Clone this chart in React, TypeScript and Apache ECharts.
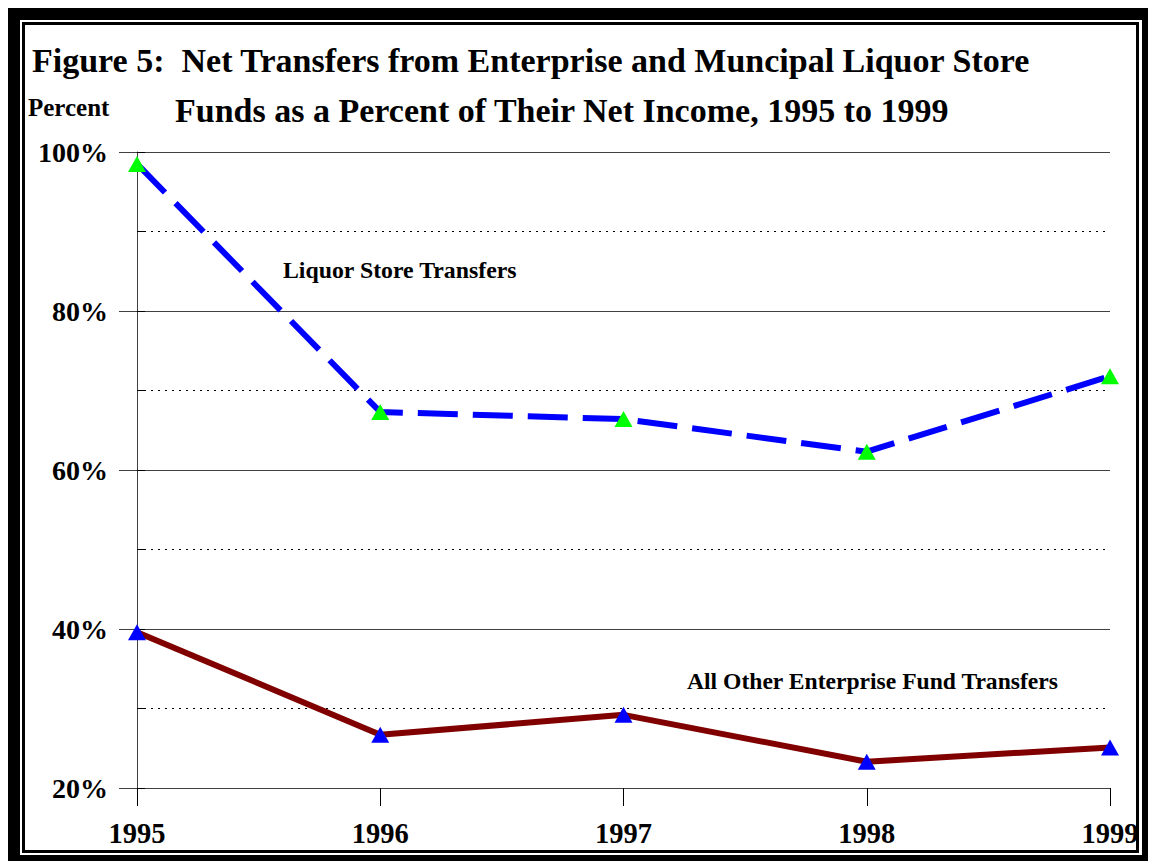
import React, { useEffect, useRef } from "react";
import * as echarts from "echarts";

const years = ["1995", "1996", "1997", "1998", "1999"];
const liquorStore = [98.5, 67.3, 66.4, 62.3, 71.8];
const otherEnterprise = [39.6, 26.7, 29.2, 23.3, 25.1];
const titleLine1 = "Figure 5:  Net Transfers from Enterprise and Muncipal Liquor Store";
const titleLine2 = "Funds as a Percent of Their Net Income, 1995 to 1999";
const yAxisTitle = "Percent";
const liquorLabel = "Liquor Store Transfers";
const otherLabel = "All Other Enterprise Fund Transfers";

const SERIF = '"Liberation Serif", "Times New Roman", Times, serif';

export default function App() {
  const ref = useRef<HTMLDivElement>(null);
  useEffect(() => {
    if (!ref.current) return;
    const chart = echarts.init(ref.current, null, { renderer: "svg" });
    chart.setOption({
      animation: false,
      backgroundColor: "#ffffff",
      grid: { left: 137, right: 41, top: 152, bottom: 74, containLabel: false },
      xAxis: {
        type: "category",
        data: years,
        boundaryGap: false,
        axisLine: { show: true, lineStyle: { color: "#404040", width: 1 } },
        axisTick: { show: true, length: 18, lineStyle: { color: "#000", width: 1 } },
        axisLabel: { color: "#000", fontFamily: SERIF, fontWeight: "bold", fontSize: 28.5, margin: 31 },
        splitLine: { show: false },
      },
      yAxis: [
        {
          type: "value",
          min: 20,
          max: 100,
          interval: 20,
          axisLine: { show: true, lineStyle: { color: "#404040", width: 1 } },
          axisTick: { show: true, length: 18, lineStyle: { color: "#404040", width: 1 } },
          axisLabel: {
            color: "#000",
            fontFamily: SERIF,
            fontWeight: "bold",
            fontSize: 28,
            margin: 29,
            formatter: "{value}%",
          },
          splitLine: { show: true, lineStyle: { color: "#404040", width: 1 } },
          minorTick: { show: false, splitNumber: 2 },
          minorSplitLine: { show: true, lineStyle: { color: "#000", width: 1, type: [2, 5] } },
        },
        {
          type: "value",
          min: 20,
          max: 100,
          interval: 10,
          position: "left",
          axisLine: { show: false },
          axisTick: { show: true, inside: true, length: 8, lineStyle: { color: "#000", width: 1 } },
          axisLabel: { show: false },
          splitLine: { show: false },
        },
      ],
      series: [
        {
          type: "line",
          data: liquorStore,
          yAxisIndex: 0,
          symbol: "triangle",
          symbolSize: [18, 16],
          itemStyle: { color: "#00ff00" },
          lineStyle: { color: "#0000ff", width: 6, type: [40, 15] },
          z: 3,
        },
        {
          type: "line",
          data: otherEnterprise,
          yAxisIndex: 0,
          symbol: "triangle",
          symbolSize: [18, 16],
          itemStyle: { color: "#0000ff" },
          lineStyle: { color: "#800000", width: 6 },
          z: 3,
        },
      ],
      graphic: [
        { type: "rect", z: -10, shape: { x: 8, y: 8, width: 1140, height: 853 }, style: { fill: "#000" } },
        { type: "rect", z: -9, shape: { x: 20, y: 20, width: 1122, height: 835 }, style: { fill: "#fff" } },
        {
          type: "rect",
          z: -8,
          shape: { x: 23.5, y: 23.5, width: 1114, height: 828 },
          style: { fill: "#fff", stroke: "#000", lineWidth: 3 },
        },
        {
          type: "text",
          x: 32,
          y: 60,
          style: { text: titleLine1, fill: "#000", font: `bold 34px ${SERIF}`, verticalAlign: "middle" },
        },
        {
          type: "text",
          x: 175,
          y: 110,
          style: { text: titleLine2, fill: "#000", font: `bold 34px ${SERIF}`, verticalAlign: "middle" },
        },
        {
          type: "text",
          x: 28,
          y: 107,
          style: { text: yAxisTitle, fill: "#000", font: `bold 25px ${SERIF}`, verticalAlign: "middle" },
        },
        {
          type: "text",
          x: 283,
          y: 270,
          style: { text: liquorLabel, fill: "#000", font: `bold 23.8px ${SERIF}`, verticalAlign: "middle" },
        },
        {
          type: "text",
          x: 687,
          y: 681,
          style: { text: otherLabel, fill: "#000", font: `bold 23.6px ${SERIF}`, verticalAlign: "middle" },
        },
      ],
    });
    return () => chart.dispose();
  }, []);
  return (
    <div
      ref={ref}
      style={{ position: "absolute", left: 0, top: 0, width: 1151, height: 862 }}
    />
  );
}
